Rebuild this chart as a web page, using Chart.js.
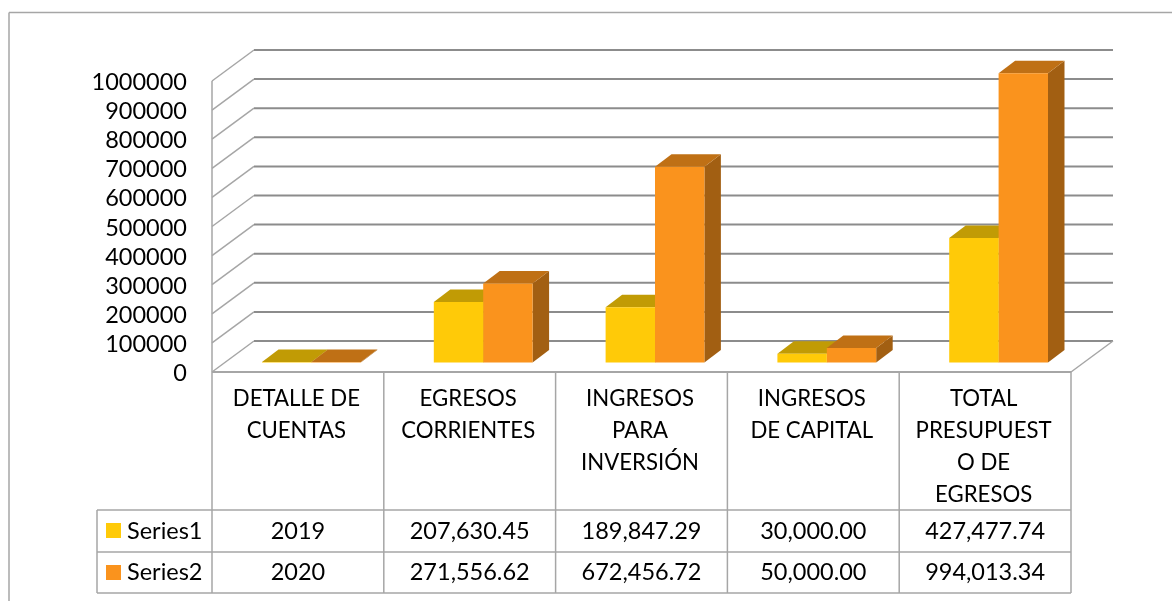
<!DOCTYPE html>
<html lang="en">
<head>
    <meta charset="UTF-8">
    <title>Presupuesto de egresos</title>
    <script src="https://cdn.jsdelivr.net/npm/chart.js"></script>
    <style>
        html, body { margin: 0; padding: 0; background: #fff; overflow: hidden; }
        canvas { display: block; }
    </style>
</head>
<body>
    <canvas id="budgetChart" width="1172" height="601"></canvas>

    <script>
        const categories = [
            ['DETALLE DE', 'CUENTAS'],
            ['EGRESOS', 'CORRIENTES'],
            ['INGRESOS', 'PARA', 'INVERSIÓN'],
            ['INGRESOS', 'DE CAPITAL'],
            ['TOTAL', 'PRESUPUEST', 'O DE', 'EGRESOS'],
        ];
        const series1 = [2019, 207630.45, 189847.29, 30000.00, 427477.74];
        const series2 = [2020, 271556.62, 672456.72, 50000.00, 994013.34];
        const series1Text = ['2019', '207,630.45', '189,847.29', '30,000.00', '427,477.74'];
        const series2Text = ['2020', '271,556.62', '672,456.72', '50,000.00', '994,013.34'];

        const FONT = 'Lato, sans-serif';
        const GRID = '#8c8c8c';
        const EDGE = '#a6a6a6';
        // 3D look: wall depth, gap from floor front edge to bar, bar depth
        const WALL_DX = 42, WALL_DY = -31;
        const BAR_SHIFT_X = 13.5, BAR_SHIFT_Y = -9.5;
        const BAR_DX = 16.5, BAR_DY = -12.5;
        const TOP_COLORS = ['#c19b05', '#bf7015'];
        const SIDE_COLORS = ['#c19b05', '#a25f12'];

        function line(ctx, x1, y1, x2, y2, color, width) {
            ctx.strokeStyle = color;
            ctx.lineWidth = width;
            ctx.beginPath();
            ctx.moveTo(x1, y1);
            ctx.lineTo(x2, y2);
            ctx.stroke();
        }

        function poly(ctx, points, color) {
            ctx.fillStyle = color;
            ctx.beginPath();
            points.forEach((p, i) => i ? ctx.lineTo(p[0], p[1]) : ctx.moveTo(p[0], p[1]));
            ctx.closePath();
            ctx.fill();
        }

        const walls = {
            id: 'walls',
            beforeDatasetsDraw(chart) {
                const ctx = chart.ctx;
                const { left, right, bottom, top } = chart.chartArea;
                const y = chart.scales.y;
                ctx.save();
                y.ticks.forEach((tick) => {
                    const py = y.getPixelForValue(tick.value);
                    line(ctx, left, py, left + WALL_DX, py + WALL_DY, EDGE, 1.5);
                    line(ctx, left + WALL_DX, py + WALL_DY, right + WALL_DX, py + WALL_DY, GRID, 2);
                });
                line(ctx, left, top, left, bottom, EDGE, 1.5);
                line(ctx, right, bottom, right + WALL_DX, bottom + WALL_DY, EDGE, 1.5);
                ctx.restore();
            },
        };

        // tops and sides go down first, the library then paints the front faces over them
        const bars3d = {
            id: 'bars3d',
            beforeDatasetsDraw(chart) {
                const ctx = chart.ctx;
                ctx.save();
                ctx.translate(BAR_SHIFT_X, BAR_SHIFT_Y);
                chart.getDatasetMeta(0).data.forEach((_, i) => {
                    [0, 1].forEach((d) => {
                        const bar = chart.getDatasetMeta(d).data[i];
                        const l = bar.x - bar.width / 2, r = bar.x + bar.width / 2;
                        poly(ctx, [[r, bar.y], [r + BAR_DX, bar.y + BAR_DY], [r + BAR_DX, bar.base + BAR_DY], [r, bar.base]], SIDE_COLORS[d]);
                        poly(ctx, [[l, bar.y], [l + BAR_DX, bar.y + BAR_DY], [r + BAR_DX, bar.y + BAR_DY], [r, bar.y]], TOP_COLORS[d]);
                    });
                });
                ctx.restore();
            },
            beforeDatasetDraw(chart) {
                chart.ctx.save();
                chart.ctx.translate(BAR_SHIFT_X, BAR_SHIFT_Y);
            },
            afterDatasetDraw(chart) {
                chart.ctx.restore();
            },
        };

        const dataTable = {
            id: 'dataTable',
            afterDraw(chart) {
                const ctx = chart.ctx;
                const { left, right, bottom } = chart.chartArea;
                const x = chart.scales.x;
                const rows = [510, 552, 593];
                const tableLeft = 97;
                const step = (right - left) / categories.length;
                ctx.save();
                // outer frame, only left and top are in the picture
                line(ctx, 9, 601, 9, 12.5, EDGE, 1.5);
                line(ctx, 9, 12.5, 1172, 12.5, EDGE, 1.5);
                // grid of the table
                line(ctx, left, bottom, right, bottom, EDGE, 2);
                for (let i = 0; i <= categories.length; i++) {
                    const px = left + i * step;
                    line(ctx, px, bottom, px, rows[2], EDGE, 1.5);
                }
                rows.forEach((py) => line(ctx, tableLeft, py, right, py, EDGE, 1.5));
                line(ctx, tableLeft, rows[0], tableLeft, rows[2], EDGE, 1.5);
                // legend keys and values
                ctx.font = '23.5px ' + FONT;
                ctx.textBaseline = 'middle';
                [[series1Text, 'Series1'], [series2Text, 'Series2']].forEach(([texts, name], r) => {
                    const cy = (rows[r] + rows[r + 1]) / 2;
                    ctx.fillStyle = chart.data.datasets[r].backgroundColor;
                    ctx.fillRect(106, Math.round(cy - 8), 15, 15);
                    ctx.fillStyle = '#000';
                    ctx.textAlign = 'left';
                    ctx.fillText(name, 127, cy);
                    ctx.textAlign = 'center';
                    texts.forEach((t, i) => ctx.fillText(t, x.getPixelForTick(i), cy));
                });
                ctx.restore();
            },
        };

        new Chart(document.getElementById('budgetChart').getContext('2d'), {
            type: 'bar',
            data: {
                labels: categories,
                datasets: [
                    { label: 'Series1', data: series1, backgroundColor: '#ffca08', clip: false },
                    { label: 'Series2', data: series2, backgroundColor: '#fa931d', clip: false },
                ],
            },
            options: {
                responsive: false,
                animation: false,
                layout: { padding: { top: 81, right: 101, bottom: 0, left: 0 } },
                datasets: { bar: { barPercentage: 1, categoryPercentage: 0.575 } },
                plugins: { legend: { display: false }, tooltip: { enabled: false } },
                scales: {
                    x: {
                        grid: { display: false },
                        border: { display: false },
                        afterFit(scale) { scale.height = 229; },
                        ticks: {
                            autoSkip: false,
                            maxRotation: 0,
                            padding: 3,
                            labelOffset: -1.5,
                            color: '#000',
                            font: { family: FONT, size: 22.2, lineHeight: 1.44 },
                        },
                    },
                    y: {
                        min: 0,
                        max: 1000000,
                        grid: { display: false, drawTicks: false },
                        border: { display: false },
                        afterFit(scale) { scale.width = 212; },
                        ticks: {
                            stepSize: 100000,
                            autoSkip: false,
                            padding: 25,
                            labelOffset: 1.5,
                            color: '#000',
                            font: { family: FONT, size: 23.5 },
                            callback: (value) => String(value),
                        },
                    },
                },
            },
            plugins: [walls, bars3d, dataTable],
        });
    </script>
</body>
</html>
